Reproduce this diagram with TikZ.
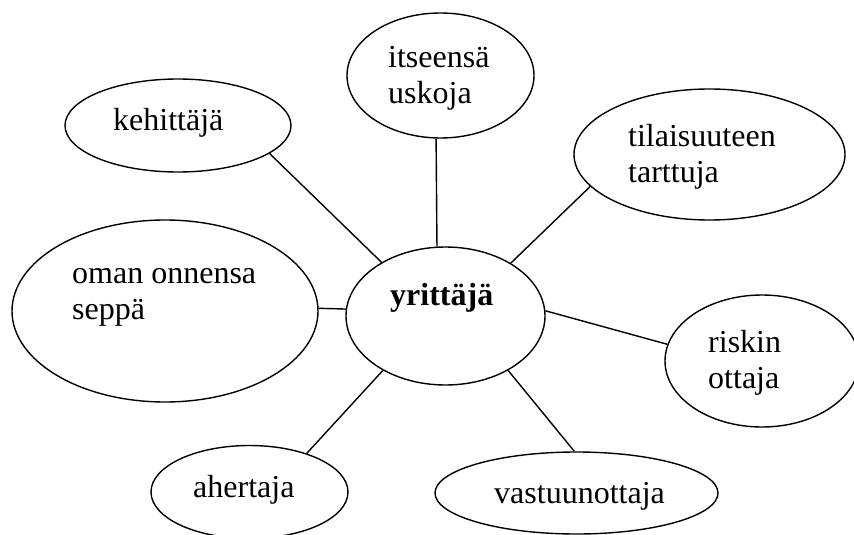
\documentclass[tikz,border=0pt]{standalone}
\usepackage{fontspec}
\setmainfont{Liberation Serif}
\usetikzlibrary{shapes.geometric}

\begin{document}
\begin{tikzpicture}[x=1pt,y=-1pt,
    bubble/.style={draw,ellipse,line width=1.4pt,inner sep=0pt},
    lbl/.style={anchor=base west,inner sep=0pt,align=left,
      font=\fontsize{32}{36}\selectfont},
    link/.style={line width=1.4pt}]
  \useasboundingbox (0,0) rectangle (854,535);
  \clip (0,0) rectangle (854,535);
  % ellipses
  \node[bubble,minimum width=199pt,minimum height=138pt] (yr) at (445.5,316) {};
  \node[bubble,minimum width=226pt,minimum height=93pt] (kehit) at (178,125.5) {};
  \node[bubble,minimum width=187pt,minimum height=125pt] (itse) at (440.5,75.5) {};
  \node[bubble,minimum width=271pt,minimum height=131pt] (tila) at (709.5,154.5) {};
  \node[bubble,minimum width=306pt,minimum height=182pt] (oman) at (165,311) {};
  \node[bubble,minimum width=194pt,minimum height=132pt] (riski) at (762,361) {};
  \node[bubble,minimum width=283pt,minimum height=82pt] (vast) at (576.5,493) {};
  \node[bubble,minimum width=197pt,minimum height=93pt] (aher) at (249.5,492) {};
  % texts (base = last line)
  \node[lbl,font=\fontsize{32}{36}\selectfont\bfseries] (yr-t) at (390,305) {yrittäjä};
  \node[lbl] (kehit-t) at (113,130) {kehittäjä};
  \node[lbl] (itse-t) at (388,103) {itseensä\\uskoja};
  \node[lbl] (tila-t) at (628,182) {tilaisuuteen\\tarttuja};
  \node[lbl] (oman-t) at (72,319) {oman onnensa\\seppä};
  \node[lbl] (riski-t) at (708,388) {riskin\\ottaja};
  \node[lbl] (vast-t) at (494,503) {vastuunottaja};
  \node[lbl] (aher-t) at (193,497) {ahertaja};
  % links
  \draw[link] (yr.140.9) -- (kehit.-17.5);
  \draw[link] (yr.97.8) -- (itse.-94.1);
  \draw[link] (yr.39.9) -- (tila.-165.1);
  \draw[link] (yr.176) -- (oman.1);
  \draw[link] (yr.3.5) -- (riski.170.6);
  \draw[link] (yr.-41.5) -- (vast.93.4);
  \draw[link] (yr.-139.4) -- (aher.34.4);
\end{tikzpicture}
\end{document}
